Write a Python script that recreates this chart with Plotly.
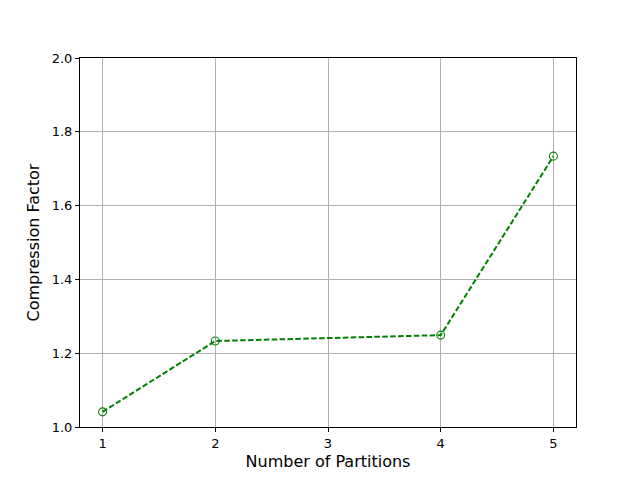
import plotly.graph_objects as go

# data
partitions = [1, 2, 4, 5]
compression = [1.041, 1.233, 1.249, 1.734]

x_ticks = [1, 2, 3, 4, 5]
y_ticks = [1.0, 1.2, 1.4, 1.6, 1.8, 2.0]

fig = go.Figure()

fig.add_trace(
    go.Scatter(
        x=partitions,
        y=compression,
        mode="lines+markers",
        line=dict(color="#008000", width=2, dash="5.5px,2.4px"),
        marker=dict(symbol="circle-open", size=8, color="#008000", line=dict(width=1.1)),
        showlegend=False,
    )
)

axis_style = dict(
    showline=True,
    mirror=True,
    linecolor="black",
    linewidth=1,
    ticks="outside",
    ticklen=4,
    tickcolor="black",
    showgrid=True,
    gridcolor="#b0b0b0",
    gridwidth=1,
    zeroline=False,
    tickfont=dict(size=13, color="black"),
)

fig.update_xaxes(
    range=[0.8, 5.2],
    tickvals=x_ticks,
    title=dict(text="Number of Partitions", font=dict(size=16, color="black"), standoff=6),
    **axis_style,
)
fig.update_yaxes(
    range=[1.0, 2.0],
    tickvals=y_ticks,
    tickformat=".1f",
    title=dict(text="Compression Factor", font=dict(size=16, color="black"), standoff=8),
    **axis_style,
)

# the page body adds an 8px offset, so margins are shifted to compensate
fig.update_layout(
    width=640,
    height=480,
    margin=dict(l=72, r=72, t=50, b=61),
    paper_bgcolor="white",
    plot_bgcolor="white",
    font=dict(family="DejaVu Sans", color="black"),
)

fig.write_html("out.html")
